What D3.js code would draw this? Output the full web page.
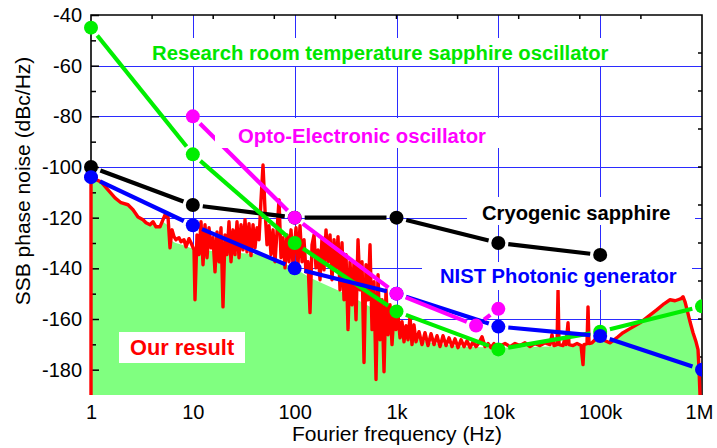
<!DOCTYPE html>
<html>
<head>
<meta charset="utf-8">
<script src="https://cdn.jsdelivr.net/npm/d3@7"></script>
<style>
  html, body { margin: 0; padding: 0; background: #fff; }
  svg { display: block; font-family: "Liberation Sans", Arial, sans-serif; }
</style>
</head>
<body>
<svg id="chart" width="717" height="448"></svg>
<script>
// ---------------- DATA ----------------
const xTickValues = [1, 10, 100, 1e3, 1e4, 1e5, 1e6];
const xTickLabels = ["1", "10", "100", "1k", "10k", "100k", "1M"];
const yTickValues = [-40, -60, -80, -100, -120, -140, -160, -180];
const yMinorValues = [-50, -70, -90, -110, -130, -150, -170, -190];

// Research room temperature sapphire oscillator
const research = [[1, -45], [10, -95], [100, -130], [1e3, -157], [1e4, -172], [1e5, -165], [1e6, -155]];
// Opto-Electronic oscillator
const opto = [[10, -80], [100, -120], [1e3, -150], [6040, -162.6], [1e4, -156]];
// Cryogenic sapphire
const cryo = [[1, -100], [10, -115], [100, -120], [1e3, -120], [1e4, -130], [1e5, -134.7]];
// NIST Photonic generator
const nist = [[1, -104], [10, -123], [100, -140], [1e3, -150], [1e4, -163], [1e5, -166.7], [1e6, -180]];

// Our result (measured, red trace) [Hz, dBc/Hz]
const ourResult = [
  [1,-190],[1,-104],[1.254,-105.9],[1.469,-109],[1.721,-112.2],[1.97,-114.1],[2.309,-114.9],[2.586,-116.9],
  [2.894,-119.7],[3.242,-120.8],[3.468,-122],[3.797,-122.8],[4.064,-121.6],[4.348,-123.6],[4.761,-123.6],
  [5.095,-120.8],[5.331,-118.9],[5.705,-119.7],[5.969,-131.9],[6.244,-124.8],[6.535,-127.5],[6.836,-128.7],
  [7.314,-127.9],[7.652,-129.5],[8.189,-128.7],[8.567,-131.5],[9.171,-128.3],[9.594,-129.9],[10.27,-132.7],
  [10.5,-152.4],[10.99,-126.8],[11.5,-134.6],[12.03,-121.6],[12.59,-138.6],[13.17,-122.8],[13.78,-135.8],
  [14.42,-124],[15.08,-131.9],[15.78,-127.9],[16.51,-141.4],[17.28,-125.6],[18.07,-137.4],[18.91,-124],
  [19.78,-155.2],[20.7,-126.8],[21.66,-134.6],[22.66,-121.6],[23.71,-137.4],[24.81,-124.8],[25.95,-134.6],
  [27.15,-121.6],[28.41,-135.8],[29.72,-122.8],[31.1,-132.7],[32.54,-120.8],[34.04,-133.5],[35.62,-122.4],
  [37.26,-135],[38.99,-122.8],[40.79,-131.9],[42.68,-124],[44.66,-128.7],[46.72,-113],[48.88,-99.2],
  [51.14,-116.9],[53.51,-130.7],[55.98,-123.2],[58.57,-134.6],[61.28,-124.8],[64.12,-137.4],[67.08,-125.6],
  [70.19,-113],[73.43,-135.8],[76.83,-127.9],[80.38,-139.8],[84.1,-126.8],[87.99,-137.4],[92.05,-124.8],
  [96.32,-138.6],[103.1,-124],[107.8,-138.6],[112.8,-123.2],[118.1,-137.4],[123.5,-128.7],[129.2,-141.4],
  [135.2,-137.4],[141.5,-157.5],[148.1,-130.7],[154.9,-126.8],[162,-139.8],[169.5,-132.7],[177.4,-144.5],
  [185.6,-127.9],[194.1,-140.6],[203.2,-124.8],[212.5,-137.4],[222.4,-126.8],[232.6,-144.5],[243.4,-128.7],
  [254.7,-139.8],[266.5,-127.5],[278.8,-148.5],[291.7,-129.9],[305.2,-152.4],[319.4,-134.6],[334.2,-164.2],
  [349.6,-137.4],[365.8,-154.4],[382.6,-137.4],[400.4,-160.3],[418.9,-128.7],[438.3,-148.5],[458.5,-137.4],
  [479.7,-177.2],[501.9,-138.6],[525.2,-152.4],[549.5,-130.7],[574.9,-164.2],[601.4,-145.3],[629.3,-183.9],
  [658.3,-142.5],[688.9,-168.2],[720.7,-152.4],[754.1,-180.8],[788.9,-148.5],[825.4,-166.2],[863.7,-154.4],
  [903.6,-170.1],[945.2,-157.1],[989,-164.2],[1035,-158.3],[1083,-167.4],[1133,-161.1],[1185,-169],
  [1240,-162.6],[1297,-168.2],[1357,-159.1],[1420,-170.1],[1485,-162.3],[1554,-169],[1663,-165],
  [1780,-170.1],[1905,-165.4],[2039,-170.5],[2183,-165.8],[2336,-170.1],[2500,-166.6],[2676,-170.9],
  [2863,-166.6],[3064,-170.5],[3279,-167.4],[3509,-170.9],[3755,-167.8],[4019,-171.3],[4300,-168.2],
  [4603,-170.9],[4926,-168.6],[5272,-171.3],[5641,-169],[6037,-170.9],[6461,-169.4],[6915,-167],
  [7400,-170.9],[7919,-169.7],[8476,-171.3],[9071,-169.7],[9707,-170.9],[10624,-170.5],[11630,-169.7],
  [13020,-170.9],[14580,-169.7],[16330,-170.5],[18280,-169.4],[20470,-170.9],[22920,-169.7],[25670,-170.5],
  [28730,-169.4],[32170,-170.1],[33670,-166.2],[35230,-170.5],[37710,-170.1],[38570,-148.8],[39450,-170.1],
  [43180,-170.5],[45180,-167.4],[46200,-170.1],[48350,-161.5],[49450,-170.1],[54130,-170.5],[59250,-169.7],
  [64860,-170.5],[67850,-178],[69400,-170.1],[74270,-169.7],[75970,-155.2],[77710,-169.7],[83170,-169.4],
  [89000,-168.2],[95260,-167.4],[101900,-167.8],[111600,-168.6],[124950,-169.4],[136800,-168.2],
  [149700,-167],[167700,-165.4],[196400,-163.8],[246200,-161.5],[295100,-159.1],[361600,-156.3],
  [423700,-154],[485200,-152.4],[543300,-152.8],[581400,-152.4],[622300,-152],[651100,-151.2],
  [681200,-153.2],[712700,-156.3],[762800,-161.1],[816300,-165.4],[873500,-169],[914000,-172.1],
  [934900,-180],[956100,-190]
];

// Our result, lower envelope (green filled area)
const ourFloor = [
  [1,-190],[1,-104],[1.254,-105.9],[1.469,-109],[1.721,-112.2],[1.97,-114.1],[2.309,-114.9],[2.586,-116.9],
  [2.894,-119.7],[3.242,-120.8],[3.468,-122],[3.797,-122.8],[4.064,-121.6],[4.348,-123.6],[4.761,-123.6],
  [5.095,-121.6],[5.577,-122.8],[5.969,-128.7],[6.684,-129.9],[7.827,-130.7],[9.38,-131.9],[11.76,-132.7],
  [18.49,-133.5],[29.05,-133.9],[45.67,-134.6],[64.12,-136.6],[98.5,-139.8],[141.5,-143.7],[222.4,-147.3],
  [349.6,-150.8],[549.5,-155.2],[771.4,-159.5],[1012,-163.4],[1357,-167],[2134,-169.4],[4205,-170.9],
  [10390,-171.3],[32170,-170.9],[63410,-170.5],[89000,-168.6],[101900,-168.2],[124950,-169.7],[136800,-168.6],
  [149700,-167],[167700,-165.4],[196400,-163.8],[246200,-161.5],[295100,-159.1],[361600,-156.3],
  [423700,-154],[485200,-152.4],[543300,-152.8],[581400,-152.4],[622300,-152],[651100,-151.2],
  [681200,-153.2],[712700,-156.3],[762800,-161.1],[816300,-165.4],[873500,-169],[914000,-172.1],
  [934900,-180],[956100,-190]
];

// ---------------- CHART ----------------
const svg = d3.select("#chart");
const W = 717, H = 448;
const L = 91, R = 702, T = 15, B = 395;

const x = d3.scaleLog().domain([1, 1e6]).range([L, R]);
const y = d3.scaleLinear().domain([-190, -40]).range([B, T]);

svg.append("rect").attr("width", W).attr("height", H).attr("fill", "#fff");

// grid
const grid = svg.append("g").attr("stroke", "#2b2bff").attr("stroke-width", 1).attr("shape-rendering", "crispEdges");
grid.selectAll("line.v").data(xTickValues.slice(1, -1)).join("line")
  .attr("x1", d => Math.round(x(d)) + 0.5).attr("x2", d => Math.round(x(d)) + 0.5)
  .attr("y1", T).attr("y2", B);
grid.selectAll("line.h").data(yTickValues.slice(1)).join("line")
  .attr("x1", L).attr("x2", R)
  .attr("y1", d => Math.round(y(d)) + 0.5).attr("y2", d => Math.round(y(d)) + 0.5);

// our result fill
svg.append("path").datum(ourFloor)
  .attr("fill", "#80ff80")
  .attr("d", d3.area().x(d => x(d[0])).y0(y(-190)).y1(d => y(d[1])));

// axes frame (left / top / right)
const axisG = svg.append("g");
const leftAxis = axisG.append("g").attr("transform", `translate(${L},0)`)
  .call(d3.axisLeft(y).tickValues(yTickValues).tickSize(-8).tickPadding(9).tickFormat(d => d));
leftAxis.select(".domain").remove();
leftAxis.selectAll("text").attr("font-size", 20).attr("fill", "#000").attr("font-family", "Liberation Sans, Arial, sans-serif");
leftAxis.selectAll("line").attr("stroke", "#000").attr("stroke-width", 1.5);
const leftMinor = axisG.append("g").attr("transform", `translate(${L},0)`)
  .call(d3.axisLeft(y).tickValues(yMinorValues.filter(v => v > -190)).tickSize(-5).tickFormat(""));
leftMinor.select(".domain").remove();
leftMinor.selectAll("line").attr("stroke", "#000").attr("stroke-width", 1.5);

const bottomAxis = axisG.append("g").attr("transform", `translate(0,${B})`)
  .call(d3.axisBottom(x).tickValues(xTickValues).tickSize(0).tickPadding(10).tickFormat((d, i) => xTickLabels[i]));
bottomAxis.select(".domain").remove();
bottomAxis.selectAll("text").attr("font-size", 20).attr("fill", "#000").attr("font-family", "Liberation Sans, Arial, sans-serif");
bottomAxis.selectAll("text").filter((d) => d === 1e6).attr("dx", -3);

// top and right frame ticks (linear, 10 divisions)
const topS = d3.scaleLinear().domain([0, 10]).range([L, R]);
const rightS = d3.scaleLinear().domain([0, 10]).range([T, B]);
axisG.append("g").selectAll("line").data(d3.range(1, 10)).join("line")
  .attr("x1", d => topS(d)).attr("x2", d => topS(d)).attr("y1", T).attr("y2", T + 4)
  .attr("stroke", "#000").attr("stroke-width", 1.5);
axisG.append("g").selectAll("line").data(d3.range(1, 10)).join("line")
  .attr("x1", R).attr("x2", R - 4).attr("y1", d => rightS(d)).attr("y2", d => rightS(d))
  .attr("stroke", "#000").attr("stroke-width", 1.5);

axisG.append("path")
  .attr("d", `M${L},${B}V${T}H${R}V${B}`)
  .attr("fill", "none").attr("stroke", "#000").attr("stroke-width", 1.6);

// red trace over the frame
svg.append("path").datum(ourResult)
  .attr("fill", "none").attr("stroke", "#ff0000").attr("stroke-width", 3.4).attr("stroke-linejoin", "round")
  .attr("d", d3.line().x(d => x(d[0])).y(d => y(d[1])));

// other series
svg.append("clipPath").attr("id", "clipR").append("rect").attr("x", 0).attr("y", 0).attr("width", R).attr("height", H);
const seriesG = svg.append("g").attr("clip-path", "url(#clipR)");
const GAP = 10;
function drawSeries(data, color) {
  const pts = data.map(d => [x(d[0]), y(d[1])]);
  const segs = [];
  for (let i = 0; i < pts.length - 1; i++) {
    const [x1, y1] = pts[i], [x2, y2] = pts[i + 1];
    const len = Math.hypot(x2 - x1, y2 - y1);
    if (len > 2 * GAP) {
      const ux = (x2 - x1) / len, uy = (y2 - y1) / len;
      segs.push([x1 + ux * GAP, y1 + uy * GAP, x2 - ux * GAP, y2 - uy * GAP]);
    }
  }
  const g = seriesG.append("g");
  g.selectAll("line").data(segs).join("line")
    .attr("x1", d => d[0]).attr("y1", d => d[1]).attr("x2", d => d[2]).attr("y2", d => d[3])
    .attr("stroke", color).attr("stroke-width", 4.2);
  g.selectAll("circle").data(pts).join("circle")
    .attr("cx", d => d[0]).attr("cy", d => d[1]).attr("r", 7).attr("fill", color);
}
drawSeries(cryo, "#000000");
drawSeries(research, "#00ee00");
drawSeries(nist, "#0000ff");
drawSeries(opto, "#ff00ff");

// labels with white boxes
const labels = [
  { text: "Research room temperature sapphire oscillator", color: "#00e600", box: [145, 38, 484, 28], tx: 152, ty: 60, fs: 20.3 },
  { text: "Opto-Electronic oscillator", color: "#ff00ff", box: [215, 118, 290, 30], tx: 238, ty: 143, fs: 20.3 },
  { text: "Cryogenic sapphire", color: "#000000", box: [467, 197, 228, 28], tx: 482, ty: 220, fs: 20.2 },
  { text: "NIST Photonic generator", color: "#0000ff", box: [422, 262, 270, 28], tx: 440, ty: 283, fs: 20.2 },
  { text: "Our result", color: "#ff0000", box: [119, 332, 126, 31], tx: 130, ty: 355, fs: 21.8 }
];
const lg = svg.append("g");
labels.forEach(l => {
  lg.append("rect").attr("x", l.box[0]).attr("y", l.box[1]).attr("width", l.box[2]).attr("height", l.box[3]).attr("fill", "#fff");
  lg.append("text").attr("x", l.tx).attr("y", l.ty).attr("fill", l.color)
    .attr("font-size", l.fs).attr("font-weight", "bold").text(l.text);
});

// axis titles
svg.append("text").attr("x", (L + R) / 2 + 0.5).attr("y", 441).attr("text-anchor", "middle")
  .attr("font-size", 21).attr("fill", "#000").text("Fourier frequency (Hz)");
svg.append("text").attr("transform", `translate(30,${181}) rotate(-90)`).attr("text-anchor", "middle")
  .attr("font-size", 21).attr("fill", "#000").text("SSB phase noise (dBc/Hz)");
</script>
</body>
</html>
